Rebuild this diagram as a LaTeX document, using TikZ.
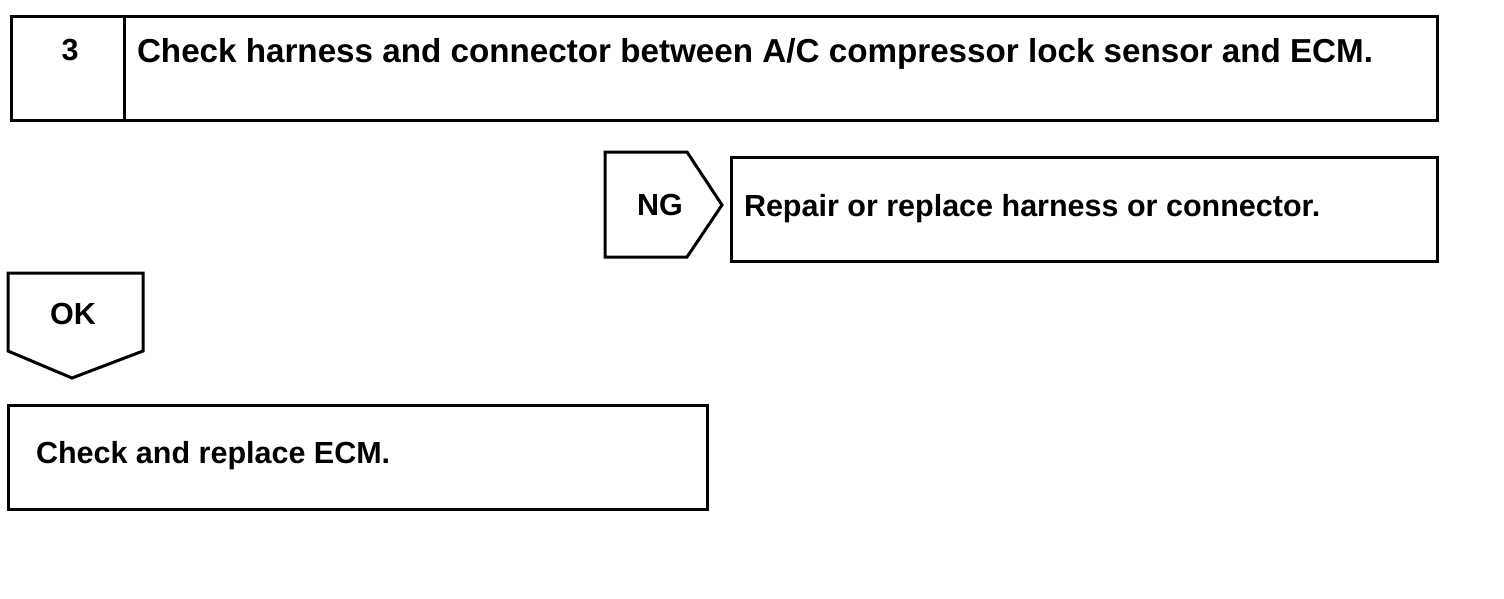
\documentclass[tikz,border=0pt]{standalone}
\usepackage{fontspec}
\setmainfont{Liberation Sans}
\begin{document}
\begin{tikzpicture}[x=1pt,y=-1pt,
  box/.style={draw, line width=3pt, rectangle, inner sep=0pt, outer sep=0pt, anchor=north west},
  tag/.style={draw, line width=3pt, line join=miter},
  lbl/.style={font=\bfseries\fontsize{30.5}{36}\selectfont, inner sep=0pt, outer sep=0pt},
  biglbl/.style={font=\bfseries\fontsize{33.2}{40}\selectfont, inner sep=0pt, outer sep=0pt}]
\useasboundingbox (0,0) rectangle (1504,598);
% step box
\node[box, minimum width=113pt, minimum height=104pt] (num) at (11,16) {};
\node[box, minimum width=1313pt, minimum height=104pt] (title) at (124,16) {};
\node[lbl, anchor=base] (numtxt) at (70,60) {3};
\node[biglbl, anchor=base west] (titletxt) at (137,62) {Check harness and connector between A/C compressor lock sensor and ECM.};
% NG tag
\coordinate (ng1) at (605,152);
\coordinate (ng2) at (687,152);
\coordinate (ng3) at (722,205);
\coordinate (ng4) at (687,257);
\coordinate (ng5) at (605,257);
\draw[tag] (ng1) -- (ng2) -- (ng3) -- (ng4) -- (ng5) -- cycle;
\node[lbl, anchor=base] (ngtxt) at (660,215) {NG};
\node[box, minimum width=706pt, minimum height=104pt] (repair) at (731,157) {};
\node[lbl, anchor=base west] (repairtxt) at (744,216) {Repair or replace harness or connector.};
% OK tag
\coordinate (ok1) at (8,273);
\coordinate (ok2) at (143,273);
\coordinate (ok3) at (143,351);
\coordinate (ok4) at (72,378);
\coordinate (ok5) at (8,351);
\draw[tag] (ok1) -- (ok2) -- (ok3) -- (ok4) -- (ok5) -- cycle;
\node[lbl, anchor=base] (oktxt) at (73,324) {OK};
\node[box, minimum width=699pt, minimum height=104pt] (ecm) at (8,405) {};
\node[lbl, anchor=base west] (ecmtxt) at (36,463) {Check and replace ECM.};
\end{tikzpicture}
\end{document}
